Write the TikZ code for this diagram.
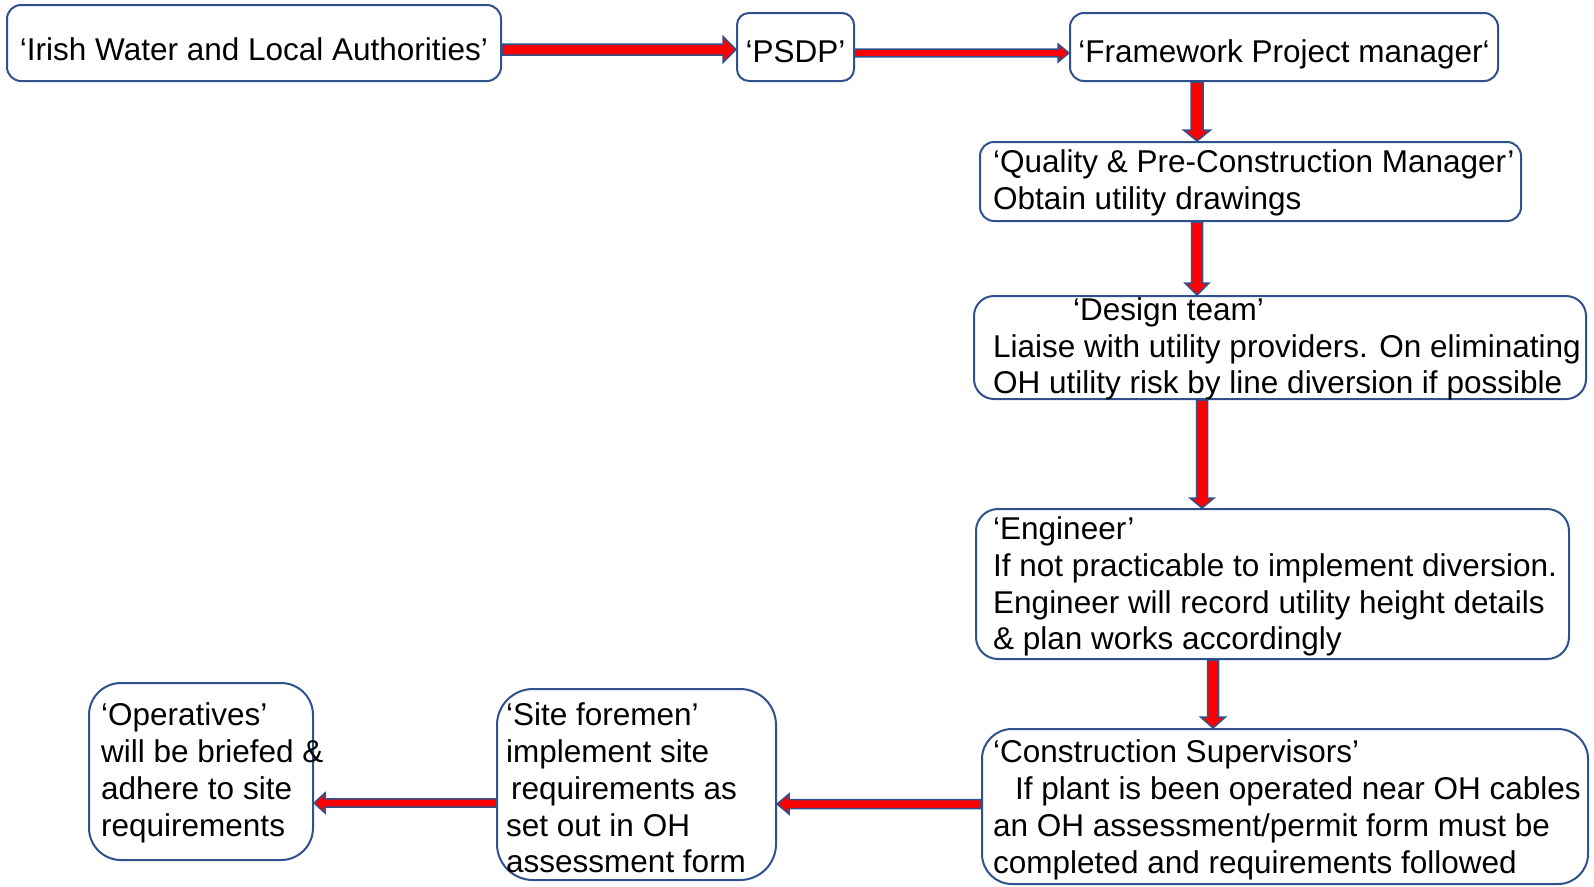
\documentclass[tikz,border=0pt]{standalone}
\usepackage{fontspec}
\setmainfont{Liberation Sans}
\usetikzlibrary{calc}
\definecolor{boxblue}{RGB}{47,82,143}
\definecolor{arrred}{RGB}{255,0,0}
\tikzset{
  box/.style={draw=boxblue, line width=2pt, rounded corners=#1, inner sep=0pt, fill=white,
    font=\fontsize{31.5}{36.8}\selectfont},
  box/.default=14pt,
  txt/.style={inner sep=0pt, align=left, anchor=west, font=\fontsize{31.5}{36.8}\selectfont},
  barrow/.style={draw=boxblue, fill=arrred, line width=1.5pt, line join=miter},
}
% block arrows: start, end, shaft half width, head half width, head length
\newcommand{\blkR}[5]{\draw[barrow] let \p1=(#1), \p2=(#2) in
  (\x1,\y1+#3) -- (\x2-#5,\y1+#3) -- (\x2-#5,\y1+#4) -- (\x2,\y1) -- (\x2-#5,\y1-#4) -- (\x2-#5,\y1-#3) -- (\x1,\y1-#3) -- cycle;}
\newcommand{\blkL}[5]{\draw[barrow] let \p1=(#1), \p2=(#2) in
  (\x1,\y1+#3) -- (\x2+#5,\y1+#3) -- (\x2+#5,\y1+#4) -- (\x2,\y1) -- (\x2+#5,\y1-#4) -- (\x2+#5,\y1-#3) -- (\x1,\y1-#3) -- cycle;}
\newcommand{\blkD}[5]{\draw[barrow] let \p1=(#1), \p2=(#2) in
  (\x1+#3,\y1) -- (\x1+#3,\y2+#5) -- (\x1+#4,\y2+#5) -- (\x1,\y2) -- (\x1-#4,\y2+#5) -- (\x1-#3,\y2+#5) -- (\x1-#3,\y1) -- cycle;}
\begin{document}
\begin{tikzpicture}[x=1pt,y=-1pt]
\useasboundingbox (0,0) rectangle (1594,886);
% boxes
\node[box=14pt, minimum width=494pt, minimum height=76pt, text height=34pt, text depth=0pt] (irish) at (254,43) {‘Irish Water and Local Authorities’};
\node[box=12pt, minimum width=117pt, minimum height=68pt, text height=30pt, text depth=0pt] (psdp) at (795.5,47) {‘PSDP’};
\node[box=14pt, minimum width=428pt, minimum height=68pt, text height=30pt, text depth=0pt] (fw) at (1284,47) {‘Framework Project manager‘};
\node[box=14pt, minimum width=541pt, minimum height=79pt] (qual) at (1250.5,181.5) {};
\node[box=20pt, minimum width=612pt, minimum height=103pt] (des) at (1280,347.5) {};
\node[box=22pt, minimum width=593pt, minimum height=150pt] (eng) at (1272.5,584) {};
\node[box=30pt, minimum width=606pt, minimum height=155pt] (con) at (1285,806.5) {};
\node[box=36pt, minimum width=279pt, minimum height=191pt] (site) at (636.5,784.5) {};
\node[box=32pt, minimum width=224pt, minimum height=177pt] (ops) at (201,771.5) {};
% texts
\node[txt] (qualt) at ([xshift=14pt,yshift=-1.5pt]qual.west) {‘Quality \& Pre-Construction Manager’\\Obtain utility drawings};
\node[txt] (dest) at ([xshift=20pt,yshift=-1.5pt]des.west) {\hspace*{80pt}‘Design team’\\Liaise with utility providers. On eliminating\\OH utility risk by line diversion if possible};
\node[txt] (engt) at ([xshift=18pt,yshift=-2.5pt]eng.west) {‘Engineer’\\If not practicable to implement diversion.\\Engineer will record utility height details\\\& plan works accordingly};
\node[txt] (cont) at ([xshift=12pt,yshift=-3.5pt]con.west) {‘Construction Supervisors’\\\hspace*{22pt}If plant is been operated near OH cables\\an OH assessment/permit form must be\\completed and requirements followed};
\node[txt] (sitet) at ([xshift=10pt,yshift=-3.5pt]site.west) {‘Site foremen’\\implement site\\\hspace*{5pt}requirements as\\set out in OH\\assessment form};
\node[txt] (opst) at ([xshift=13pt,yshift=-1.5pt]ops.west) {‘Operatives’\\will be briefed \&\\adhere to site\\requirements};
% arrows
\blkR{[yshift=-6.5pt]irish.east}{psdp.west}{5.5pt}{13pt}{13pt}
\blkR{[yshift=-6pt]psdp.east}{fw.west}{3.8pt}{9pt}{11pt}
\blkD{[xshift=-87pt]fw.south}{qual.north}{6pt}{13.5pt}{11pt}
\blkD{[xshift=-53.5pt]qual.south}{des.north}{5.5pt}{12pt}{12pt}
\blkD{[xshift=-78pt]des.south}{eng.north}{5.5pt}{12pt}{10pt}
\blkD{[xshift=-59.5pt]eng.south}{con.north}{5.5pt}{12.5pt}{11pt}
\blkL{[yshift=2.5pt]con.west}{site.east}{4.5pt}{10pt}{12pt}
\blkL{[yshift=-18.5pt]site.west}{ops.east}{4.2pt}{10pt}{11pt}
\end{tikzpicture}
\end{document}
